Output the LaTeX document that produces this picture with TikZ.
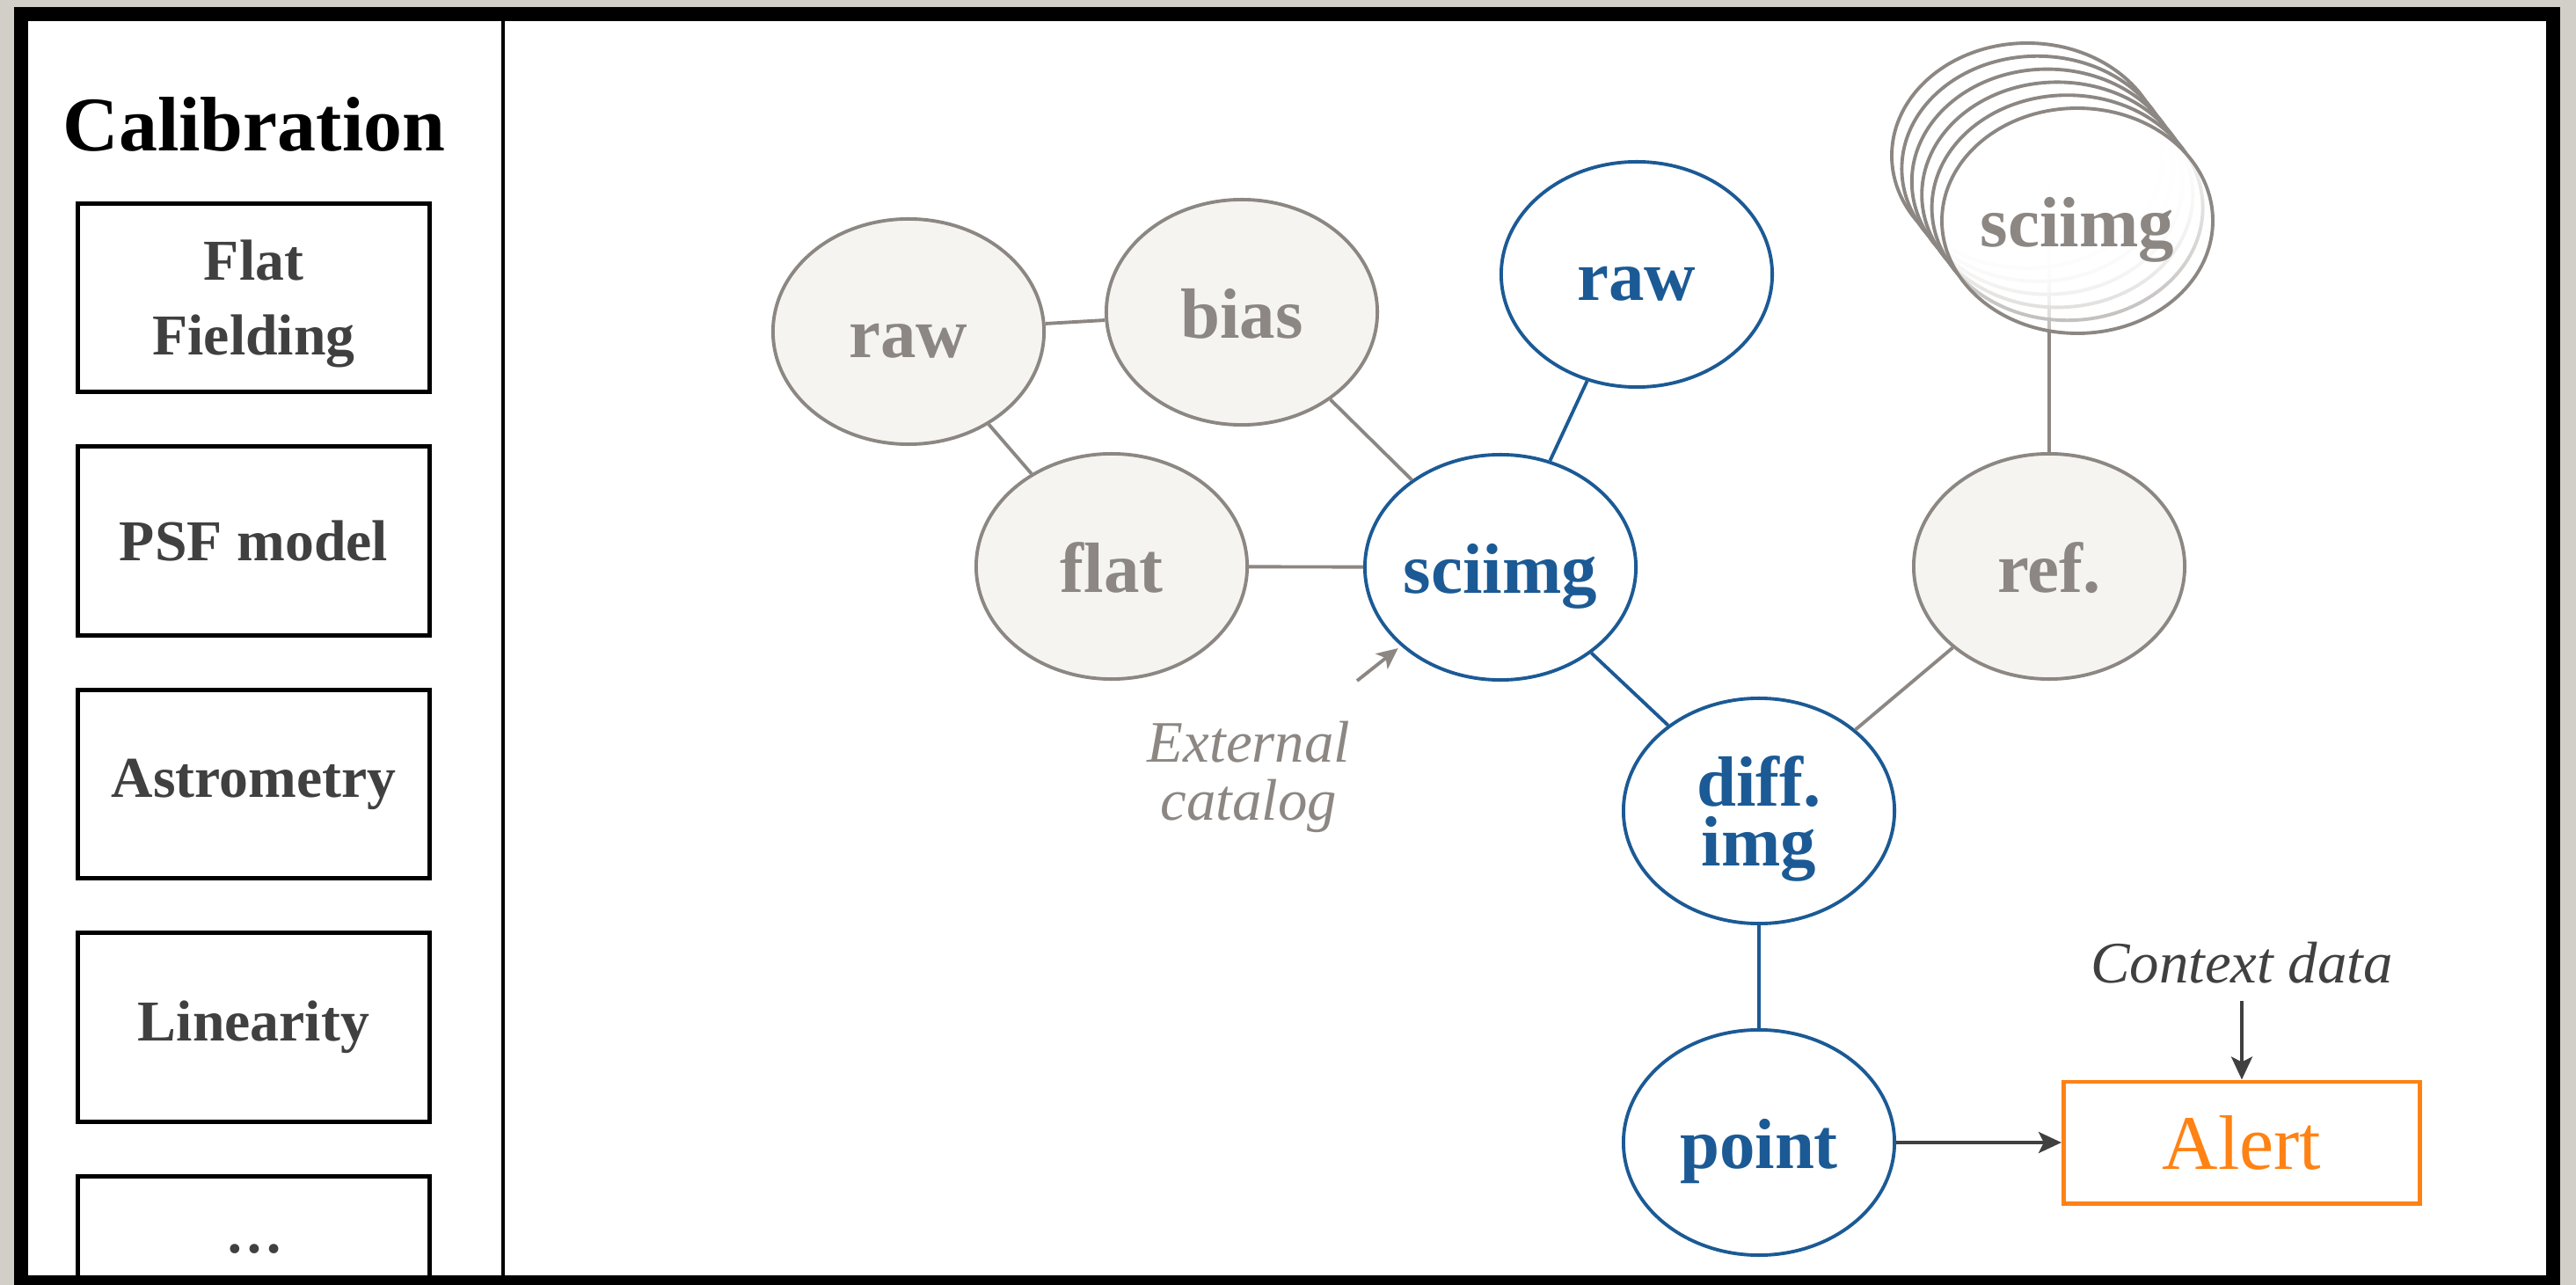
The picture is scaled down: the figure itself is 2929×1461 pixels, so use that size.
\documentclass[tikz,border=0pt]{standalone}
\usepackage{fontspec}
\setmainfont{Liberation Serif}
\usetikzlibrary{shapes.geometric,arrows.meta,fadings}

\definecolor{backdrop}{HTML}{D2CFC9}
\definecolor{stone}{HTML}{8C8783}
\definecolor{stonefill}{HTML}{F5F4F1}
\definecolor{deepblue}{HTML}{1B5A95}
\definecolor{ink}{HTML}{404040}
\definecolor{alertorange}{HTML}{FF8214}

% white veil of the stacked reference images: opaque on top, thin at the bottom
\tikzfading[name=stackfade, top color=transparent!0, bottom color=transparent!55]

\newcommand{\titlefont}{\fontsize{25}{28}\selectfont\bfseries}
\newcommand{\boxfont}{\fontsize{18.7}{24.2}\selectfont\bfseries}
\newcommand{\nodefont}{\fontsize{23}{19.6}\selectfont\bfseries}
\newcommand{\notefont}{\fontsize{19}{18.5}\selectfont\itshape}
\newcommand{\alertfont}{\fontsize{25}{28}\selectfont}
% zero-width label so the ellipse keeps its fixed size
\newcommand{\lbl}[1]{\makebox[0pt]{#1}}
% two centred lines, baseline on the last line
\newcommand{\twolines}[2]{\vbox{\lineskiplimit=-\maxdimen\halign{\hfil##\hfil\cr#1\cr#2\cr}}}

\begin{document}
\begin{tikzpicture}[x=0.01cm,y=-0.01cm,
  every node/.style={inner sep=0pt},
  datanode/.style={ellipse, line width=1.1pt, minimum width=3.08cm,
    minimum height=2.56cm, font=\nodefont, text depth=0pt},
  oneline/.style={text height=17pt},
  oldnode/.style={datanode, draw=stone, fill=stonefill, text=stone},
  newnode/.style={datanode, draw=deepblue, fill=white, text=deepblue},
  oldlink/.style={draw=stone, line width=1.1pt},
  newlink/.style={draw=deepblue, line width=1.1pt},
  calbox/.style={rectangle, draw=black, line width=1.4pt, minimum width=4.0cm,
    minimum height=2.14cm, align=center, text=ink, font=\boxfont},
  inkarrow/.style={draw=ink, line width=1.1pt,
    -{Stealth[length=0.26cm,width=0.24cm,inset=0.06cm]}},
  catarrow/.style={draw=stone, line width=1.1pt, shorten >=0.04cm,
    -{Stealth[length=0.24cm,width=0.22cm,inset=0.06cm]}},
  stackring/.style={draw=stone, line width=1.1pt},
]
\useasboundingbox (0,0) rectangle (2929,1461);
\fill[backdrop] (0,0) rectangle (2929,1461);

% outer frame and the panel divider
\draw[line width=0.16cm, fill=white] (24,16) rectangle (2903,1458);
\draw[line width=0.04cm] (572,24) -- (572,1450);

% calibration panel
\node[anchor=base, font=\titlefont] (caltitle) at (289,172) {Calibration};
\node[calbox, text depth=0pt] (flatfield) at (288.5,338.5)
  {\twolines{Flat}{Fielding}};
\node[calbox] (psf) at (288.5,615) {PSF model};
\node[calbox] (astrom) at (288.5,891.5) {Astrometry};
\node[calbox] (linear) at (288.5,1168) {Linearity};
\node[calbox] (more) at (288.5,1444.5) {};
\node[font=\boxfont, text=ink] (moredots) at (289,1420) {\ldots};

% data products
\node[oldnode, oneline] (graw) at (1033,377) {\lbl{raw}};
\node[oldnode, oneline] (gbias) at (1412,355) {\lbl{bias}};
\node[oldnode, oneline] (gflat) at (1264,644) {\lbl{flat}};
\node[newnode, oneline] (sci) at (1706,645) {\lbl{sciimg}};
\node[newnode, oneline] (braw) at (1861,312) {\lbl{raw}};
\node[newnode] (diff) at (2000,922) {\lbl{\twolines{diff.}{img}}};
\node[newnode, oneline] (point) at (2000,1299) {\lbl{point}};
\node[oldnode, oneline] (ref) at (2330,644) {\lbl{ref.}};

% links between products
\draw[oldlink] (graw) -- (gbias);
\draw[oldlink] (graw) -- (gflat);
\draw[oldlink] (gbias) -- (sci);
\draw[oldlink] (gflat) -- (sci);
\draw[oldlink] (ref) -- (diff);
\draw[newlink] (braw) -- (sci);
\draw[newlink] (sci) -- (diff);
\draw[newlink] (diff) -- (point);

% stack of earlier science images feeding the reference
\coordinate (stackroot) at (2330,213);
\draw[oldlink] (ref) -- (stackroot);
\foreach \k in {5,4,3,2,1,0}{
  \fill[white, path fading=stackfade]
    ({2362-11.4*\k},{251-14.8*\k}) ellipse (154 and 128);
  \draw[stackring] ({2362-11.4*\k},{251-14.8*\k}) ellipse (154 and 128);
}
\node[font=\nodefont, text=stone, text height=17pt, text depth=0pt]
  (stack) at (2362,251) {\lbl{sciimg}};

% external catalog note
\node[anchor=base, font=\notefont, text=stone] (extcat) at (1420,932)
  {\twolines{External}{catalog}};
\coordinate (cattail) at (1543,774);
\draw[catarrow] (cattail) -- (sci);

% alert output
\node[rectangle, draw=alertorange, line width=1.4pt, minimum width=4.05cm,
  minimum height=1.38cm, text=alertorange, font=\alertfont] (alert)
  at (2549,1299) {Alert};
\node[anchor=base, font=\notefont, text=ink] (ctx) at (2549,1117) {Context data};
\draw[inkarrow] (point) -- (alert);
\draw[inkarrow, shorten <=0.2cm] (ctx) -- (alert);
\end{tikzpicture}
\end{document}
